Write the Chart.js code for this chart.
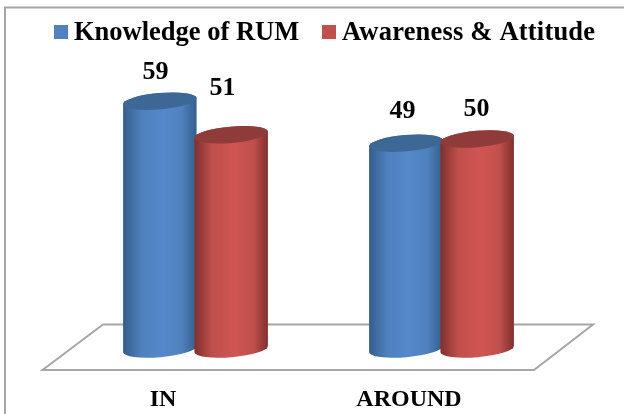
<!DOCTYPE html>
<html>
<head>
<meta charset="utf-8">
<style>
  html, body { margin: 0; padding: 0; background: #fff; }
  #wrap { width: 624px; height: 414px; }
</style>
<script src="https://cdn.jsdelivr.net/npm/chart.js@4/dist/chart.umd.min.js"></script>
</head>
<body>
<div id="wrap"><canvas id="chart"></canvas></div>
<script>
const categories = ['IN', 'AROUND'];
const knowledge = [59, 49];
const awareness = [51, 50];
const seriesNames = ['Knowledge of RUM', 'Awareness & Attitude'];

const FONT = '"Liberation Serif", "Times New Roman", serif';
const shades = [
    { fill: '#4f81bd', edge: '#345d8c', light: '#5488cb', top: '#3d6896' },
    { fill: '#c0504d', edge: '#7f302e', light: '#cf5552', top: '#8f3b39' }
];
// label baseline shift from the top of each bar, [dx, dy] per dataset then category
const labelShift = [[[-4.3, -22.5], [-3.3, -25]], [[-8.7, -40], [-0.7, -23.5]]];
// legend: left edge of each swatch and letter spacing of each name
const legendX = [54, 322];
const legendSpacing = ['0px', '0.2px'];
const TILT = -0.085;
const RY = 8.2;

const floorPlugin = {
    id: 'floor',
    beforeDraw(chart) {
        const ctx = chart.ctx;
        const a = chart.chartArea;
        ctx.save();
        ctx.strokeStyle = '#a6a6a6';
        ctx.lineWidth = 2;
        // outer frame, only left and top are inside the picture
        ctx.beginPath();
        ctx.moveTo(5, chart.height);
        ctx.lineTo(5, 7.5);
        ctx.lineTo(chart.width, 7.5);
        ctx.stroke();
        // floor of the 3d plot
        ctx.beginPath();
        ctx.moveTo(a.left - 30, a.bottom + 21);
        ctx.lineTo(a.left + 30.5, a.bottom - 24.5);
        ctx.lineTo(a.right + 28.5, a.bottom - 24.5);
        ctx.lineTo(a.right - 30.5, a.bottom + 21);
        ctx.closePath();
        ctx.stroke();
        ctx.restore();
    }
};

const cylinderPlugin = {
    id: 'cylinders',
    afterDatasetsDraw(chart) {
        const ctx = chart.ctx;
        chart.data.datasets.forEach((ds, i) => {
            const c = shades[i];
            chart.getDatasetMeta(i).data.forEach((bar, j) => {
                const rx = bar.width / 2 + 1.2;
                const grad = ctx.createLinearGradient(bar.x - rx, 0, bar.x + rx, 0);
                grad.addColorStop(0, c.edge);
                grad.addColorStop(0.25, c.fill);
                grad.addColorStop(0.55, c.light);
                grad.addColorStop(0.8, c.fill);
                grad.addColorStop(1, c.edge);

                ctx.save();
                ctx.beginPath();
                ctx.ellipse(bar.x, bar.y, rx, RY, TILT, Math.PI, Math.PI * 2);
                ctx.ellipse(bar.x, bar.base, rx, RY, TILT, 0, Math.PI);
                ctx.closePath();
                ctx.fillStyle = grad;
                ctx.fill();

                ctx.beginPath();
                ctx.ellipse(bar.x, bar.y, rx, RY, TILT, 0, Math.PI * 2);
                ctx.fillStyle = c.top;
                ctx.fill();

                ctx.fillStyle = '#000';
                ctx.font = 'bold 26px ' + FONT;
                ctx.textAlign = 'center';
                ctx.textBaseline = 'alphabetic';
                const s = labelShift[i][j];
                ctx.fillText(ds.data[j], bar.x + s[0], bar.y + s[1]);
                ctx.restore();
            });
        });
    }
};

// the gap between swatch and name is tighter than the built-in legend allows
const legendPlugin = {
    id: 'topLegend',
    afterDraw(chart) {
        const ctx = chart.ctx;
        ctx.save();
        ctx.font = 'bold 26.5px ' + FONT;
        ctx.textBaseline = 'alphabetic';
        chart.data.datasets.forEach((ds, i) => {
            ctx.fillStyle = ds.backgroundColor;
            ctx.fillRect(legendX[i], 25, 14, 14);
            ctx.fillStyle = '#000';
            ctx.letterSpacing = legendSpacing[i];
            ctx.fillText(ds.label, legendX[i] + 20, 40);
        });
        ctx.restore();
    }
};

new Chart(document.getElementById('chart'), {
    type: 'bar',
    data: {
        labels: categories,
        datasets: [
            { label: seriesNames[0], data: knowledge, backgroundColor: shades[0].fill, categoryPercentage: 0.58, barPercentage: 1 },
            { label: seriesNames[1], data: awareness, backgroundColor: shades[1].fill, categoryPercentage: 0.58, barPercentage: 1 }
        ]
    },
    options: {
        responsive: true,
        maintainAspectRatio: false,
        animation: false,
        layout: { padding: { left: 72.5, right: 59.5, top: 55, bottom: 3 } },
        plugins: {
            tooltip: { enabled: false },
            legend: { display: false }
        },
        scales: {
            x: {
                afterFit(scale) { scale.height = 62; },
                grid: { display: false },
                border: { display: false },
                ticks: {
                    color: '#000',
                    padding: 28,
                    labelOffset: -32.5,
                    maxRotation: 0,
                    font: { family: FONT, size: 24, weight: 'bold' }
                }
            },
            y: { display: false, min: 0, max: 70 }
        }
    },
    plugins: [floorPlugin, cylinderPlugin, legendPlugin]
});
</script>
</body>
</html>
